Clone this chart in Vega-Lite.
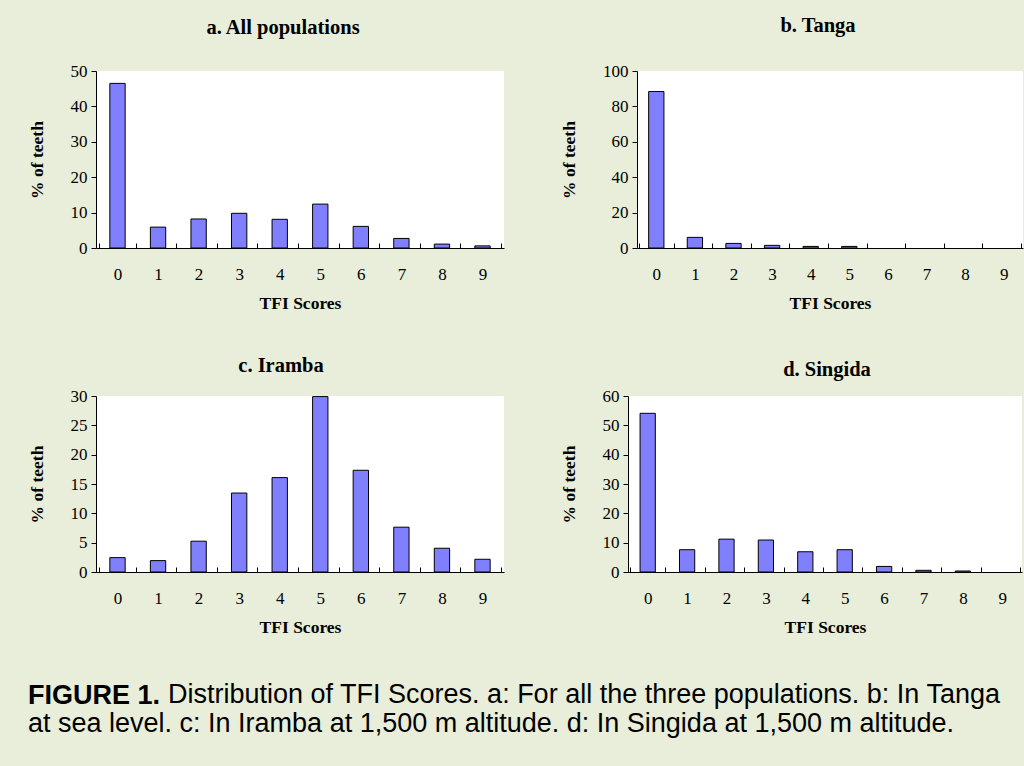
{
  "$schema": "https://vega.github.io/schema/vega-lite/v6.json",
  "background": "#e8eed9",
  "padding": {"left": 28, "top": 15, "right": 1, "bottom": 30},
  "datasets": {
    "a": [
      {"score": 0, "pct": 46.5}, {"score": 1, "pct": 5.9}, {"score": 2, "pct": 8.2}, {"score": 3, "pct": 9.8}, {"score": 4, "pct": 8.1},
      {"score": 5, "pct": 12.4}, {"score": 6, "pct": 6.1}, {"score": 7, "pct": 2.7}, {"score": 8, "pct": 1.1}, {"score": 9, "pct": 0.6}
    ],
    "b": [
      {"score": 0, "pct": 88.4}, {"score": 1, "pct": 6.0}, {"score": 2, "pct": 2.6}, {"score": 3, "pct": 1.5}, {"score": 4, "pct": 0.9},
      {"score": 5, "pct": 0.9}
    ],
    "c": [
      {"score": 0, "pct": 2.45}, {"score": 1, "pct": 1.94}, {"score": 2, "pct": 5.25}, {"score": 3, "pct": 13.46}, {"score": 4, "pct": 16.09},
      {"score": 5, "pct": 29.9}, {"score": 6, "pct": 17.34}, {"score": 7, "pct": 7.64}, {"score": 8, "pct": 4.05}, {"score": 9, "pct": 2.17}
    ],
    "d": [
      {"score": 0, "pct": 54.1}, {"score": 1, "pct": 7.6}, {"score": 2, "pct": 11.2}, {"score": 3, "pct": 10.9}, {"score": 4, "pct": 6.9},
      {"score": 5, "pct": 7.6}, {"score": 6, "pct": 1.9}, {"score": 7, "pct": 0.57}, {"score": 8, "pct": 0.34}
    ]
  },
  "title": {"text": "at sea level. c: In Iramba at 1,500 m altitude. d: In Singida at 1,500 m altitude.", "orient": "bottom", "anchor": "start", "frame": "bounds", "font": "Liberation Sans", "fontSize": 27, "fontWeight": "normal", "color": "#000", "offset": 2},
  "vconcat": [
    {
      "title": {"text": "Distribution of TFI Scores. a: For all the three populations. b: In Tanga", "orient": "bottom", "anchor": "start", "frame": "bounds", "font": "Liberation Sans", "fontSize": 27, "fontWeight": "normal", "color": "#000", "offset": -27, "dx": 140},
      "spacing": 43,
      "vconcat": [
        {
          "spacing": 56,
          "hconcat": [
            {
              "data": {"name": "a"},
              "width": 408, "height": 177,
              "title": {"text": "a. All populations", "anchor": "middle", "frame": "group", "dx": -17, "offset": 24, "font": "Liberation Serif", "fontSize": 20.5, "fontWeight": "bold", "color": "#000"},
              "mark": {"type": "bar", "color": "#8080ff", "stroke": "#000", "strokeWidth": 1, "width": {"band": 0.42}},
              "encoding": {
                "x": {"field": "score", "type": "ordinal", "scale": {"domain": [0,1,2,3,4,5,6,7,8,9], "paddingOuter": 0.08}, "axis": {"title": "TFI Scores"}},
                "y": {"field": "pct", "type": "quantitative", "scale": {"domain": [0, 50], "nice": false}, "axis": {"title": "% of teeth", "values": [0,10,20,30,40,50]}}
              }
            },
            {
              "data": {"name": "b"},
              "width": 386, "height": 177,
              "title": {"text": "b. Tanga", "anchor": "middle", "frame": "group", "dx": -12, "offset": 26, "font": "Liberation Serif", "fontSize": 20.5, "fontWeight": "bold", "color": "#000"},
              "mark": {"type": "bar", "color": "#8080ff", "stroke": "#000", "strokeWidth": 1, "width": {"band": 0.44}},
              "encoding": {
                "x": {"field": "score", "type": "ordinal", "scale": {"domain": [0,1,2,3,4,5,6,7,8,9]}, "axis": {"title": "TFI Scores"}},
                "y": {"field": "pct", "type": "quantitative", "scale": {"domain": [0, 100], "nice": false}, "axis": {"title": "% of teeth", "values": [0,20,40,60,80,100]}}
              }
            }
          ]
        },
        {
          "title": {"text": "FIGURE 1.", "orient": "bottom", "anchor": "start", "frame": "bounds", "font": "Liberation Sans", "fontSize": 27, "fontWeight": "bold", "color": "#000", "offset": 47},
          "spacing": 56,
          "hconcat": [
            {
              "data": {"name": "c"},
              "width": 408, "height": 176,
              "title": {"text": "c. Iramba", "anchor": "middle", "frame": "group", "dx": -19, "offset": 11, "font": "Liberation Serif", "fontSize": 20.5, "fontWeight": "bold", "color": "#000"},
              "mark": {"type": "bar", "color": "#8080ff", "stroke": "#000", "strokeWidth": 1, "width": {"band": 0.42}},
              "encoding": {
                "x": {"field": "score", "type": "ordinal", "scale": {"domain": [0,1,2,3,4,5,6,7,8,9], "paddingOuter": 0.08}, "axis": {"title": "TFI Scores"}},
                "y": {"field": "pct", "type": "quantitative", "scale": {"domain": [0, 30], "nice": false}, "axis": {"title": "% of teeth", "values": [0,5,10,15,20,25,30]}}
              }
            },
            {
              "data": {"name": "d"},
              "width": 394, "height": 176,
              "title": {"text": "d. Singida", "anchor": "middle", "frame": "group", "dx": 2, "offset": 7, "font": "Liberation Serif", "fontSize": 20.5, "fontWeight": "bold", "color": "#000"},
              "mark": {"type": "bar", "color": "#8080ff", "stroke": "#000", "strokeWidth": 1, "width": {"band": 0.43}},
              "encoding": {
                "x": {"field": "score", "type": "ordinal", "scale": {"domain": [0,1,2,3,4,5,6,7,8,9]}, "axis": {"title": "TFI Scores"}},
                "y": {"field": "pct", "type": "quantitative", "scale": {"domain": [0, 60], "nice": false}, "axis": {"title": "% of teeth", "values": [0,10,20,30,40,50,60]}}
              }
            }
          ]
        }
      ]
    }
  ],
  "config": {
    "view": {"fill": "#ffffff", "stroke": null},
    "axis": {
      "labelFont": "Liberation Serif", "labelFontSize": 17, "labelColor": "#000",
      "titleFont": "Liberation Serif", "titleFontSize": 17.5, "titleFontWeight": "bold", "titleColor": "#000",
      "domainColor": "#000", "tickColor": "#000", "grid": false, "domainWidth": 1, "tickWidth": 1
    },
    "axisX": {"labelAngle": 0, "tickBand": "extent", "tickSize": -5, "labelPadding": 23, "titlePadding": 12},
    "axisY": {"tickSize": 5, "labelPadding": 4, "titlePadding": 24}
  }
}
